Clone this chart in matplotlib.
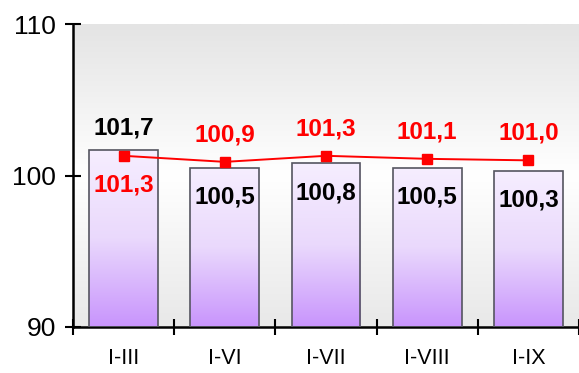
import numpy as np
import matplotlib.pyplot as plt
from matplotlib.colors import LinearSegmentedColormap

plt.rcParams['font.family'] = ['Liberation Sans', 'DejaVu Sans']

periods = ['I-III', 'I-VI', 'I-VII', 'I-VIII', 'I-IX']
bar_vals = [101.7, 100.5, 100.8, 100.5, 100.3]
line_vals = [101.3, 100.9, 101.3, 101.1, 101.0]
bar_labels = ['101,7', '100,5', '100,8', '100,5', '100,3']
line_labels = ['101,3', '100,9', '101,3', '101,1', '101,0']

fig = plt.figure(figsize=(5.79, 3.73), dpi=100)
ax = fig.add_axes([73/579, 1-327/373, 1-73/579, (327-24)/373])

x = np.arange(len(periods))
ax.set_xlim(-0.5, len(periods)-0.5)
ax.set_ylim(90, 110)

# plot area background: grey at top and bottom, white in the middle
bg = LinearSegmentedColormap.from_list('bg', ['#e4e4e4', '#ffffff', '#e8e8e8'])
ax.imshow(np.linspace(0, 1, 256).reshape(-1, 1), cmap=bg, aspect='auto',
          extent=[-0.5, len(periods)-0.5, 90, 110], origin='upper', zorder=0)

bars = ax.bar(x, [v - 90 for v in bar_vals], bottom=90, width=0.68,
              facecolor='none', edgecolor='#555560', linewidth=1.2, zorder=3)

# purple fade inside each bar
barcm = LinearSegmentedColormap.from_list('bar', ['#f6eeff', '#ead9fc', '#c894fd'])
for b in bars:
    x0, y0 = b.get_x(), b.get_y()
    im = ax.imshow(np.linspace(0, 1, 256).reshape(-1, 1), cmap=barcm, aspect='auto',
                   extent=[x0, x0 + b.get_width(), y0, y0 + b.get_height()],
                   origin='upper', zorder=2)
    im.set_clip_path(b)

ax.plot(x, line_vals, color='#ff0000', lw=1.4, marker='s', markersize=7.5,
        zorder=4)

for i in range(len(periods)):
    if i == 0:
        boff, loff = 16, -21
    else:
        boff, loff = -21, 19.5
    ax.annotate(bar_labels[i], (x[i], bar_vals[i]), xytext=(0, boff),
                textcoords='offset points', ha='center', va='center',
                fontsize=17.5, fontweight='bold', color='black', zorder=5)
    ax.annotate(line_labels[i], (x[i], line_vals[i]), xytext=(0, loff),
                textcoords='offset points', ha='center', va='center',
                fontsize=17.5, fontweight='bold', color='#ff0000', zorder=5)

ax.set_xlim(-0.5, len(periods)-0.5)
ax.set_ylim(90, 110)
ax.set_yticks([90, 100, 110])
ax.set_xticks(x)
ax.set_xticklabels(periods)
ax.set_xticks(np.arange(len(periods)+1) - 0.5, minor=True)
ax.tick_params(axis='x', which='major', length=0, pad=15, labelsize=15.5)
ax.tick_params(axis='x', which='minor', direction='inout', length=12, width=1.5)
ax.tick_params(axis='y', direction='inout', length=12, width=1.5, labelsize=19, pad=6)

for s in ['top', 'right']:
    ax.spines[s].set_visible(False)
for s in ['left', 'bottom']:
    ax.spines[s].set_linewidth(1.8)

fig.savefig('out.png', dpi=100)
